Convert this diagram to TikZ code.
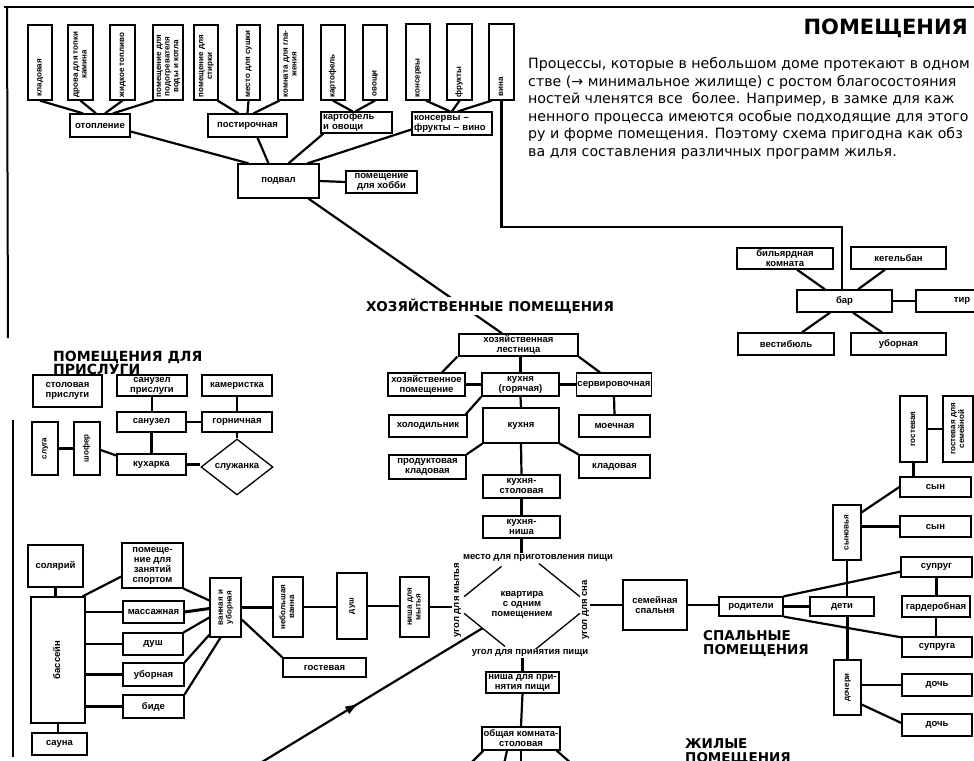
\documentclass[tikz,border=0pt]{standalone}
\usepackage{fontspec}
\setmainfont{Liberation Sans}
\newfontfamily\djv{DejaVu Sans}
\usepackage{graphicx}
\usetikzlibrary{calc,shapes.geometric,decorations.markings,arrows.meta}

\newcommand{\vlab}[1]{\rotatebox{90}{\begin{tabular}{@{}c@{}}#1\end{tabular}}}
\newcommand{\lbf}{\fontsize{9.5}{10}\selectfont\bfseries}
\newcommand{\vbf}{\fontsize{8}{8.6}\selectfont\bfseries}

\tikzset{
 box/.style={draw, line width=1.3pt, fill=white, inner sep=1pt, align=center, font=\lbf},
 vbox/.style={draw, line width=1.3pt, fill=white, inner sep=1pt, font=\vbf},
 vtxt/.style={inner sep=0pt, font=\vbf},
 conn/.style={line width=2.2pt},
 thinconn/.style={line width=1.3pt},
 ttl/.style={font=\djv\fontsize{13.5}{14}\selectfont\bfseries, inner sep=0pt, align=left},
 ptx/.style={anchor=base west, inner sep=0pt, font=\djv\fontsize{14.2}{17}\selectfont},
 lbl/.style={inner sep=1pt, font=\lbf},
}

\begin{document}
\begin{tikzpicture}[x=1pt,y=-1pt]
\clip (0,0) rectangle (974,760);
\fill[white] (0,0) rectangle (974,760);
% frame
\draw[line width=2pt] (4,7) -- (974,7);
\draw[line width=2pt] (7,6) -- (8,338);
\draw[line width=1.8pt] (13,420) -- (13,757);

% header and paragraph
\node[anchor=base east, inner sep=0pt, font=\djv\fontsize{21}{21}\selectfont\bfseries] (hdr) at (968,35) {ПОМЕЩЕНИЯ};
\node[ptx] (p1) at (528,68) {Процессы, которые в небольшом доме протекают в одном};
\node[ptx] (p2) at (528,86) {стве (→ минимальное жилище) с ростом благосостояния};
\node[ptx] (p3) at (528,103) {ностей членятся все\ \ более. Например, в замке для каж};
\node[ptx] (p4) at (528,121) {ненного процесса имеются особые подходящие для этого};
\node[ptx] (p5) at (528,138) {ру и форме помещения. Поэтому схема пригодна как обз};
\node[ptx] (p6) at (528,156) {ва для составления различных программ жилья.};

% ---------- basement: top row ----------
\node[vbox, minimum width=24, minimum height=75] (kl) at (40,62.5) {};
\node[vbox, minimum width=25, minimum height=75] (drova) at (80.5,62.5) {};
\node[vbox, minimum width=25, minimum height=75] (zhid) at (122.5,62.5) {};
\node[vbox, minimum width=30, minimum height=75] (podogr) at (168,62.5) {};
\node[vbox, minimum width=24, minimum height=75] (stirka) at (206,62.5) {};
\node[vbox, minimum width=23, minimum height=75] (sushka) at (248.5,62.5) {};
\node[vbox, minimum width=25, minimum height=75] (glazh) at (290.5,62.5) {};
\node[vbox, minimum width=24, minimum height=75] (kart) at (333,62.5) {};
\node[vbox, minimum width=24, minimum height=75] (ovoshi) at (375,62.5) {};
\node[vbox, minimum width=24, minimum height=76] (konserv) at (418,62) {};
\node[vbox, minimum width=25, minimum height=76] (frukty) at (459.5,62) {};
\node[vbox, minimum width=25, minimum height=76] (vina) at (501.5,62) {};
\node[vtxt, anchor=south] at ($(kl.south)+(0,-4)$) {\vlab{кладовая}};
\node[vtxt, anchor=south] at ($(drova.south)+(0,-3)$) {\vlab{дрова для топки\\камина}};
\node[vtxt, anchor=south] at ($(zhid.south)+(0,-3)$) {\vlab{жидкое топливо}};
\node[vtxt, anchor=south] at ($(podogr.south)+(0,-3)$) {\vlab{помещение для\\подогревателя\\воды и котла}};
\node[vtxt, anchor=south] at ($(stirka.south)+(0,-3)$) {\vlab{помещение для\\стирки}};
\node[vtxt, anchor=south] at ($(sushka.south)+(0,-3)$) {\vlab{место для сушки}};
\node[vtxt, anchor=south] at ($(glazh.south)+(0,-3)$) {\vlab{комната для гла-\\жения}};
\node[vtxt, anchor=south] at ($(kart.south)+(0,-3)$) {\vlab{картофель}};
\node[vtxt, anchor=south] at ($(ovoshi.south)+(0,-4)$) {\vlab{овощи}};
\node[vtxt, anchor=south] at ($(konserv.south)+(0,-3)$) {\vlab{консервы}};
\node[vtxt, anchor=south] at ($(frukty.south)+(0,-3)$) {\vlab{фрукты}};
\node[vtxt, anchor=south] at ($(vina.south)+(0,-4)$) {\vlab{вина}};

% ---------- basement: second row ----------
\node[box, minimum width=60, minimum height=23] (otopl) at (100,125.5) {отопление};
\node[box, minimum width=79, minimum height=23] (postir) at (247.5,125.5) {постирочная};
\node[box, minimum width=71, minimum height=21, text width=67, align=left] (kartov) at (356.5,122.5) {картофель\\и овощи};
\node[box, minimum width=80, minimum height=23, text width=76, align=left] (konsfr) at (452,123.5) {консервы –\\фрукты – вино};
\node[box, minimum width=81, minimum height=34] (podval) at (278.5,181) {подвал};
\node[box, minimum width=71, minimum height=22] (hobby) at (381.5,182) {помещение\\для хобби};

% ---------- bar group ----------
\node[box, minimum width=96, minimum height=21] (bil) at (785,258.5) {бильярдная\\комната};
\node[box, minimum width=95, minimum height=22] (kegel) at (898.5,258) {кегельбан};
\node[box, minimum width=95, minimum height=22] (bar) at (844.5,301) {бар};
\node[box, minimum width=92, minimum height=22] (tir) at (962,301) {тир};
\node[box, minimum width=96, minimum height=22] (vest) at (786,344) {вестибюль};
\node[box, minimum width=95, minimum height=22] (ubor2) at (898.5,344) {уборная};

% ---------- kitchen group ----------
\node[box, minimum width=119, minimum height=22] (lest) at (518.5,345) {хозяйственная\\лестница};
\node[box, minimum width=77, minimum height=23] (hozpom) at (426.5,384.5) {хозяйственное\\помещение};
\node[box, minimum width=77, minimum height=23] (kuhgor) at (520.5,384.5) {кухня\\(горячая)};
\node[box, minimum width=72, minimum height=23] (serv) at (614,384.5) {сервировочная};
\node[box, minimum width=78, minimum height=22] (holod) at (428,426) {холодильник};
\node[box, minimum width=76, minimum height=35] (kuhnya) at (521,425.5) {кухня};
\node[box, minimum width=71, minimum height=22] (moech) at (614.5,426) {моечная};
\node[box, minimum width=77, minimum height=24] (prod) at (427.5,467) {продуктовая\\кладовая};
\node[box, minimum width=71, minimum height=23] (klad2) at (614.5,466.5) {кладовая};
\node[box, minimum width=77, minimum height=23] (kst) at (521.5,486.5) {кухня-\\столовая};
\node[box, minimum width=77, minimum height=22] (knisha) at (521.5,527) {кухня-\\ниша};
\node[lbl] (mesto) at (538,558) {место для приготовления пищи};

% ---------- one-room flat ----------
\node[diamond, minimum width=136, minimum height=110, inner sep=0pt, align=center, font=\lbf] (kv) at (522,605) {квартира\\с одним\\помещением};
\node[vtxt, font=\lbf] (ugm) at (457,600) {\vlab{угол для мытья}};
\node[vtxt, font=\lbf] (ugs) at (585,610) {\vlab{угол для сна}};
\node[lbl] (ugp) at (530,653) {угол для принятия пищи};
\node[box, minimum width=73, minimum height=21] (nishap) at (522.5,682.5) {ниша для при-\\нятия пищи};
\node[box, minimum width=78, minimum height=23] (obsh) at (521,738.5) {общая комната-\\столовая};

% ---------- bathing group ----------
\node[vbox, minimum width=29, minimum height=60] (nisha) at (414.5,607) {\vlab{ниша для\\мытья}};
\node[vbox, minimum width=30, minimum height=66] (dush2) at (352,606) {\vlab{душ}};
\node[vbox, minimum width=30, minimum height=60] (nebv) at (288,607) {\vlab{небольшая\\ванна}};
\node[vbox, minimum width=31, minimum height=59] (vannu) at (225.5,607.5) {\vlab{ванная и\\уборная}};
\node[box, minimum width=83, minimum height=19] (gost) at (324.5,667.5) {гостевая};
\node[vbox, minimum width=54, minimum height=126, font=\lbf] (bass) at (58,660) {\vlab{бассейн}};
\node[box, minimum width=55, minimum height=42] (sol) at (55.5,566) {солярий};
\node[box, minimum width=55, minimum height=22] (sauna) at (59.5,744) {сауна};
\node[box, minimum width=61, minimum height=45] (sport) at (152.5,565.5) {помеще-\\ние для\\занятий\\спортом};
\node[box, minimum width=61, minimum height=22] (mass) at (153.5,612) {массажная};
\node[box, minimum width=60, minimum height=22] (dush1) at (153,644) {душ};
\node[box, minimum width=61, minimum height=23] (ubor1) at (153.5,674.5) {уборная};
\node[box, minimum width=61, minimum height=23] (bide) at (153.5,706.5) {биде};

% ---------- bedrooms ----------
\node[box, minimum width=64, minimum height=50] (semsp) at (655,605) {семейная\\спальня};
\node[box, minimum width=64, minimum height=19] (rodit) at (751,606.5) {родители};
\node[box, minimum width=64, minimum height=19] (deti) at (842,606.5) {дети};
\node[box, minimum width=68, minimum height=21] (gard) at (936,606.5) {гардеробная};
\node[box, minimum width=71, minimum height=20] (suprug) at (936.5,567) {супруг};
\node[box, minimum width=70, minimum height=20] (supruga) at (937,647) {супруга};
\node[vbox, minimum width=28, minimum height=55] (synov) at (847,532.5) {\vlab{сыновья}};
\node[box, minimum width=71, minimum height=20] (syn1) at (935.5,487) {сын};
\node[box, minimum width=71, minimum height=21] (syn2) at (935.5,526.5) {сын};
\node[vbox, minimum width=27, minimum height=66] (gost2) at (913.5,429) {\vlab{гостевая}};
\node[vbox, minimum width=30, minimum height=66] (gostsem) at (958,429) {\vlab{гостевая для\\семейной}};
\node[vbox, minimum width=27, minimum height=55] (docheri) at (847.5,687.5) {\vlab{дочери}};
\node[box, minimum width=70, minimum height=22] (doch1) at (937,685) {дочь};
\node[box, minimum width=70, minimum height=22] (doch2) at (937,725) {дочь};
\node[ttl, anchor=north west] (spt) at (703,630) {СПАЛЬНЫЕ\\ПОМЕЩЕНИЯ};
\node[ttl, anchor=north west] (zht) at (685,738) {ЖИЛЫЕ\\ПОМЕЩЕНИЯ};

% ---------- servants ----------
\node[ttl, anchor=north west, font=\djv\fontsize{14}{12.8}\selectfont\bfseries] (prt) at (53,351) {ПОМЕЩЕНИЯ ДЛЯ\\ПРИСЛУГИ};
\node[box, minimum width=69, minimum height=32] (stolp) at (67.5,391) {столовая\\прислуги};
\node[box, minimum width=70, minimum height=21] (sanpr) at (152,385.5) {санузел\\прислуги};
\node[box, minimum width=70, minimum height=21] (kamer) at (237,385.5) {камеристка};
\node[box, minimum width=69, minimum height=20] (sanuz) at (151.5,422) {санузел};
\node[box, minimum width=70, minimum height=20] (gorn) at (237,422) {горничная};
\node[box, minimum width=69, minimum height=21] (kuhar) at (151.5,464.5) {кухарка};
\node[diamond, draw, line width=1.3pt, fill=white, minimum width=72, minimum height=56, inner sep=0pt, font=\lbf] (sluzh) at (237,467) {служанка};
\node[vbox, minimum width=26, minimum height=53] (sluga) at (45,448.5) {\vlab{слуга}};
\node[vbox, minimum width=26, minimum height=53] (shofer) at (87,448.5) {\vlab{шофер}};

% ================= connectors =================
% basement
\draw[conn] (kl.south) -- ($(otopl.north)+(-17,0)$);
\draw[conn] (drova.south) -- ($(otopl.north)+(-4,0)$);
\draw[conn] (zhid.south) -- ($(otopl.north)+(5,0)$);
\draw[conn] ($(podogr.south west)+(1,0)$) -- ($(otopl.north)+(13,0)$);
\draw[conn] ($(stirka.south east)+(-1,0)$) -- ($(postir.north)+(-9,0)$);
\draw[conn] (sushka.south) -- (postir.north);
\draw[conn] ($(glazh.south west)+(2,0)$) -- ($(postir.north)+(6,0)$);
\draw[conn] (kart.south) -- ($(kartov.north)+(-4,0)$);
\draw[conn] (ovoshi.south) -- ($(kartov.north)+(-1,0)$);
\draw[conn] ($(konserv.south)+(8,0)$) -- ($(konsfr.north)+(-2,0)$);
\draw[conn] (frukty.south) -- (konsfr.north);
\draw[conn] ($(vina.south)+(-10,0)$) -- ($(konsfr.north)+(6,0)$);
\draw[conn] (vina.south) |- ($(bar.north)+(-2.5,-62)$) -- ($(bar.north)+(-2.5,0)$);
\draw[conn] ($(otopl.east)+(0,6)$) -- ($(podval.north)+(-30,0)$);
\draw[conn] ($(postir.south)+(10,0)$) -- ($(podval.north)+(-10,0)$);
\draw[conn] ($(kartov.south west)+(3,0)$) -- ($(podval.north)+(10,0)$);
\draw[conn] ($(konsfr.west)+(0,6)$) -- ($(podval.north)+(29,0)$);
\draw[conn] (podval.east) -- (hobby.west);
\draw[conn] ($(podval.south)+(30,0)$) -- ($(lest.north)+(-16.5,0)$);
\node[fill=white, inner sep=2pt, font=\djv\fontsize{13.5}{14}\selectfont\bfseries] (hoz) at (490,306) {ХОЗЯЙСТВЕННЫЕ ПОМЕЩЕНИЯ};

% bar
\draw[conn] ($(bil.south)+(12,0)$) -- ($(bar.north)+(-19.5,0)$);
\draw[conn] ($(kegel.south)+(-13.5,0)$) -- ($(bar.north)+(13.5,0)$);
\draw[conn] (bar.east) -- (tir.west);
\draw[conn] ($(bar.south)+(-14.5,0)$) -- ($(vest.north)+(16,0)$);
\draw[conn] ($(bar.south)+(8.5,0)$) -- ($(ubor2.north)+(-16.5,0)$);

% kitchen
\draw[conn] ($(lest.south west)+(-1,0)$) -- ($(hozpom.north)+(15.5,0)$);
\draw[conn] ($(lest.south)+(2,0)$) -- (kuhgor.north);
\draw[conn] (lest.south east) -- ($(serv.north)+(-14,0)$);
\draw[conn] (hozpom.east) -- (kuhgor.west);
\draw[conn] (kuhgor.east) -- (serv.west);
\draw[conn] (kuhgor.south west) -- ($(holod.north east)+(-2,0)$);
\draw[conn] (kuhgor.south) -- (kuhnya.north);
\draw[conn] (serv.south) -- (moech.north);
\draw[conn] (kuhnya.south west) -- (prod.north east);
\draw[conn] (kuhnya.south east) -- (klad2.north west);
\draw[conn] (kuhnya.south) -- (kst.north);
\draw[conn] (kst.south) -- (knisha.north);
\draw[conn] (knisha.south) -- (knisha.south |- mesto.north);

% flat diamond
\draw[thinconn] ($(kv.north)!0.3!(kv.west)$) -- ($(kv.north)!0.85!(kv.west)$);
\draw[thinconn] ($(kv.north)!0.25!(kv.east)$) -- ($(kv.north)!0.85!(kv.east)$);
\draw[thinconn] ($(kv.west)!0.15!(kv.south)$) -- ($(kv.west)!0.75!(kv.south)$);
\draw[thinconn] ($(kv.east)!0.15!(kv.south)$) -- ($(kv.east)!0.8!(kv.south)$);
\draw[conn] (nishap.north |- ugp.south) -- (nishap.north);
\draw[conn] (nishap.south) -- (obsh.north);
\coordinate (o1) at (470,764);
\coordinate (o2) at (504,764);
\coordinate (o3) at (521,764);
\coordinate (o4) at (572,764);
\draw[conn] ($(obsh.south west)+(2,0)$) -- (o1);
\draw[conn] ($(obsh.south)+(-14,0)$) -- (o2);
\draw[conn] (obsh.south) -- (o3);
\draw[conn] ($(obsh.south east)+(-4,0)$) -- (o4);
\coordinate (arrS) at (262,762);
\draw[conn, postaction={decorate}, decoration={markings, mark=at position 0.44 with {\arrow{Latex[length=14pt,width=9pt]}}}] (arrS) -- ($(kv.west)!0.42!(kv.south)$);

% bathing
\draw[conn] (nisha.east) -- (nisha.east -| ugm.west);
\draw[conn] (dush2.east) -- (dush2.east -| nisha.west);
\draw[conn] (nebv.east) -- (nebv.east -| dush2.west);
\draw[conn] (vannu.east) -- (vannu.east -| nebv.west);
\draw[conn] ($(vannu.east)+(0,12)$) -- (gost.north west);
\draw[conn] ($(bass.north east)+(-3,0)$) -- ($(sport.west)+(0,11)$);
\draw[conn] (mass.west -| bass.east) -- (mass.west);
\draw[conn] (dush1.west -| bass.east) -- (dush1.west);
\draw[conn] (ubor1.west -| bass.east) -- (ubor1.west);
\draw[conn] (bide.west -| bass.east) -- (bide.west);
\draw[conn] (sol.south) -- (sol.south |- bass.north);
\draw[conn] (bass.south) -- (bass.south |- sauna.north);
\draw[conn] (sport.south east) -- ($(vannu.west)+(0,-7)$);
\draw[line width=3pt] (mass.east) -- ($(vannu.west)+(0,1)$);
\draw[conn] (dush1.north east) -- ($(vannu.west)+(0,10)$);
\draw[conn] (ubor1.north east) -- ($(vannu.south west)+(1,-4)$);
\draw[conn] (bide.north east) -- ($(vannu.south)+(-5,0)$);

% bedrooms
\draw[conn] (ugs.east |- semsp.west) -- (semsp.west);
\draw[conn] (semsp.east) -- (semsp.east -| rodit.west);
\draw[conn] (rodit.east) -- (deti.west);
\draw[conn] (rodit.north east) -- ($(suprug.south west)+(0,-6)$);
\draw[conn] (rodit.south east) -- ($(supruga.north west)+(0,1)$);
\draw[conn] (suprug.south) -- (suprug.south |- gard.north);
\draw[conn] (gard.south) -- (gard.south |- supruga.north);
\draw[conn] (synov.south) -- (synov.south |- deti.north);
\draw[conn] (docheri.north |- deti.south) -- (docheri.north);
\draw[conn] ($(synov.north east)+(0,8)$) -- (syn1.west);
\draw[conn] (syn2.west -| synov.east) -- (syn2.west);
\draw[conn] (gost2.south) -- (gost2.south |- syn1.north);
\draw[conn] (gost2.east) -- (gostsem.west);
\draw[conn] (doch1.west -| docheri.east) -- (doch1.west);
\draw[conn] ($(docheri.east)+(0,17)$) -- ($(doch2.west)+(0,-2)$);

% servants
\draw[conn] (sanpr.south) -- (sanpr.south |- sanuz.north);
\draw[conn] (kamer.south) -- (gorn.north);
\draw[conn] (sanuz.east) -- (gorn.west);
\draw[conn] (sanuz.south) -- (kuhar.north);
\draw[conn] (kuhar.east) -- (kuhar.east -| sluzh.west);
\draw[conn] (gorn.south) -- (sluzh.north);
\draw[conn] (sluga.east) -- (shofer.west);
\draw[conn] ($(shofer.east)+(0,1.5)$) -- ($(kuhar.west)+(0,-9)$);
\end{tikzpicture}
\end{document}
